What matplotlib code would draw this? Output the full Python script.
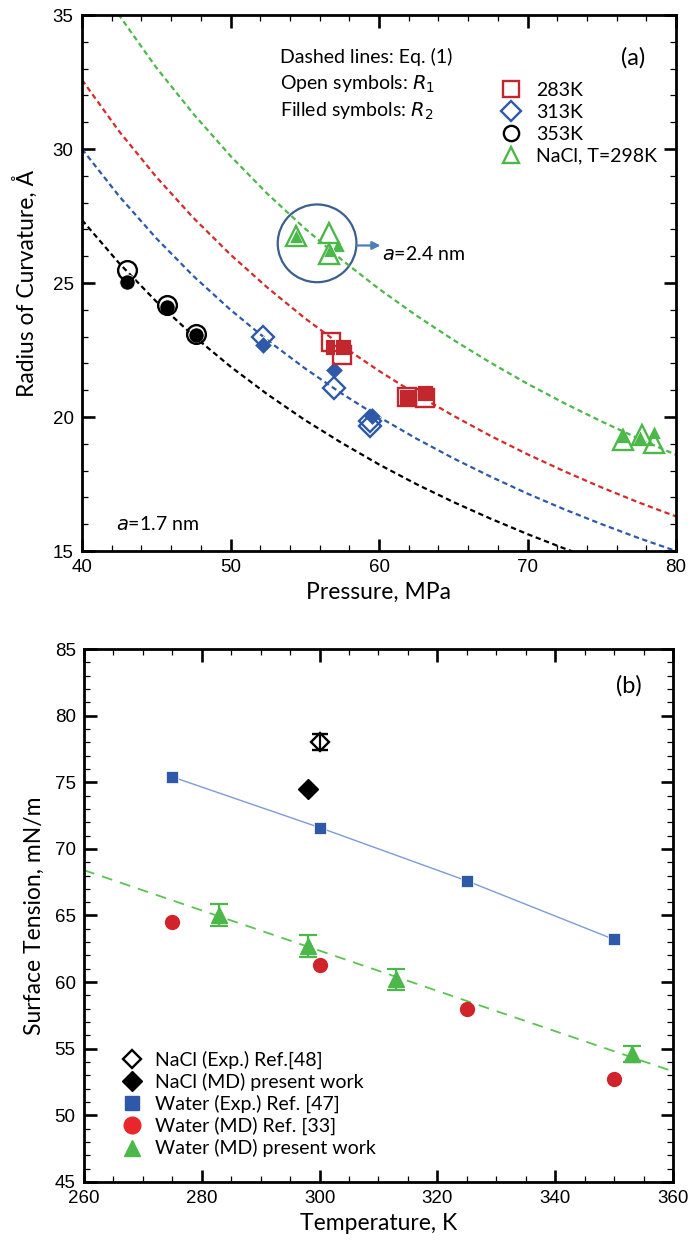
import numpy as np
import matplotlib
matplotlib.use('Agg')
import matplotlib.pyplot as plt
from matplotlib.patches import Ellipse
from matplotlib.lines import Line2D
from matplotlib.ticker import MultipleLocator

# ---- panel (a) data: radius of curvature vs pressure ----
# Eq. (1) dashed curves
p_curve = [40, 42.5, 45, 47.5, 50, 52.5, 55, 57.5, 60, 62.5, 65, 67.5, 70, 72.5, 75, 77.5, 80]
r_curve_283 = [32.58, 30.66, 28.96, 27.43, 26.06, 24.82, 23.69, 22.66, 21.72, 20.85, 20.05, 19.30, 18.61, 17.97, 17.37, 16.81, 16.29]
r_curve_313 = [30.00, 28.24, 26.67, 25.26, 24.00, 22.86, 21.82, 20.87, 20.00, 19.20, 18.46, 17.78, 17.14, 16.55, 16.00, 15.48, 15.00]
r_curve_353 = [27.35, 25.74, 24.31, 23.03, 21.88, 20.84, 19.89, 19.03, 18.23, 17.50, 16.83, 16.21, 15.63, 15.09, 14.59, 14.12, 13.68]
r_curve_nacl = [37.18, 34.99, 33.04, 31.31, 29.74, 28.32, 27.04, 25.86, 24.78, 23.79, 22.88, 22.03, 21.24, 20.51, 19.83, 19.19, 18.59]

# open symbols R1, filled symbols R2
p_283_open = [56.8, 57.5, 61.9, 63.1]
r_283_open = [22.8, 22.31, 20.76, 20.7]
p_283_fill = [56.9, 57.6, 61.9, 63.1]
r_283_fill = [22.62, 22.62, 20.76, 20.88]

p_313_open = [52.2, 57.0, 59.4, 59.4]
r_313_open = [23.0, 21.07, 19.85, 19.68]
p_313_fill = [52.2, 57.0, 59.5]
r_313_fill = [22.69, 21.75, 20.05]

p_353_open = [43.0, 45.75, 47.68]
r_353_open = [25.49, 24.17, 23.1]
p_353_fill = [43.0, 45.75, 47.68]
r_353_fill = [25.05, 24.12, 23.06]

p_nacl_open = [54.4, 56.6, 56.6, 76.4, 77.7, 78.5]
r_nacl_open = [26.77, 26.85, 26.1, 19.15, 19.33, 19.02]
p_nacl_fill = [54.4, 57.26, 56.7, 76.4, 77.6, 78.5]
r_nacl_fill = [26.77, 26.42, 26.25, 19.3, 19.27, 19.45]

# ---- panel (b) data: surface tension vs temperature ----
t_nacl_exp = [300]
s_nacl_exp = [78.0]
e_nacl_exp = [0.6]
t_nacl_md = [298]
s_nacl_md = [74.5]
t_water_exp = [275, 300, 325, 350]
s_water_exp = [75.4, 71.6, 67.6, 63.2]
t_water_ref = [275, 300, 325, 350]
s_water_ref = [64.5, 61.25, 58.0, 52.7]
t_water_md = [283, 298, 313, 353]
s_water_md = [65.05, 62.7, 60.2, 54.6]
e_water_md = [0.85, 0.8, 0.8, 0.6]
t_fit = [260, 360]
s_fit = [68.4, 53.3]

RED = '#c1272d'
BLUE = '#2e59a8'
GREEN = '#4cb84a'
TXT = ['Lato', 'DejaVu Sans']
NUM = 'Liberation Sans'

fig = plt.figure(figsize=(7, 12.51), dpi=100)
W, H = 700., 1251.
axa = fig.add_axes([82/W, 1-551/H, 594/W, 536/H])
axb = fig.add_axes([84/W, 1-1182/H, 589/W, 533/H])

def style(ax):
    for s in ax.spines.values():
        s.set_linewidth(2.0)
    ax.tick_params(which='both', direction='in', top=True, right=True)
    ax.tick_params(which='major', length=9, width=1.9, labelsize=13.5, pad=6)
    ax.tick_params(which='minor', length=4.5, width=0.9)
    for lab in ax.get_xticklabels() + ax.get_yticklabels():
        lab.set_family(NUM)

# ---------- (a) ----------
dash = (2.4, 1.6)
axa.plot(p_curve, r_curve_nacl, color=GREEN, lw=1.6, dashes=dash)
axa.plot(p_curve, r_curve_283, color='#d42a2a', lw=1.6, dashes=dash)
axa.plot(p_curve, r_curve_313, color=BLUE, lw=1.6, dashes=dash)
axa.plot(p_curve, r_curve_353, color='black', lw=1.6, dashes=dash)

axa.plot(p_353_fill, r_353_fill, 'o', color='black', ms=11, mec='white', mew=0.6)
axa.plot(p_353_open, r_353_open, 'o', mfc='none', mec='black', ms=13.5, mew=1.7)
axa.plot(p_313_fill, r_313_fill, 'D', color=BLUE, ms=9.5, mec='white', mew=0.6)
axa.plot(p_313_open, r_313_open, 'D', mfc='none', mec=BLUE, ms=11.5, mew=1.7)
axa.plot(p_283_fill, r_283_fill, 's', color=RED, ms=12, mec='white', mew=0.6)
axa.plot(p_283_open, r_283_open, 's', mfc='none', mec=RED, ms=12.5, mew=1.7)
axa.plot(p_nacl_fill, r_nacl_fill, '^', color=GREEN, ms=10, mec='white', mew=0.6)
axa.plot(p_nacl_open, r_nacl_open, '^', mfc='none', mec=GREEN, ms=14, mew=1.7)

axa.add_patch(Ellipse((55.83, 26.48), 5.3, 2.9, fill=False, ec='#3c5f8c', lw=1.6))
axa.annotate('', xy=(60.1, 26.4), xytext=(58.5, 26.4),
             arrowprops=dict(arrowstyle='-|>', color='#4a7ebb', lw=1.6, mutation_scale=12,
                             shrinkA=0, shrinkB=0))
axa.text(60.2, 26.1, '$a$=2.4 nm', fontsize=14, family=TXT, va='center')
axa.text(42.3, 16.0, '$a$=1.7 nm', fontsize=14, family=TXT, va='center')
axa.text(53.3, 33.43, 'Dashed lines: Eq. (1)', fontsize=14, family=TXT, va='center')
axa.text(53.3, 32.42, 'Open symbols: $R_1$', fontsize=14, family=TXT, va='center')
axa.text(53.3, 31.40, 'Filled symbols: $R_2$', fontsize=14, family=TXT, va='center')
axa.text(77.1, 33.4, '(a)', fontsize=17, family=TXT, va='center', ha='center')

ha = [Line2D([], [], ls='none', marker='s', mfc='none', mec=RED, ms=11, mew=1.7),
      Line2D([], [], ls='none', marker='D', mfc='none', mec=BLUE, ms=10, mew=1.7),
      Line2D([], [], ls='none', marker='o', mfc='none', mec='black', ms=11, mew=1.7),
      Line2D([], [], ls='none', marker='^', mfc='none', mec=GREEN, ms=12, mew=1.7)]
lega = axa.legend(ha, ['283K', '313K', '353K', 'NaCl, T=298K'], loc='upper left',
                  bbox_to_anchor=(0.689, 0.894), frameon=False, borderpad=0, handlelength=1.0,
                  handletextpad=0.8, labelspacing=0.26, prop={'family': TXT, 'size': 14})

axa.set_xlim(40, 80)
axa.set_ylim(15, 35)
axa.xaxis.set_major_locator(MultipleLocator(10))
axa.xaxis.set_minor_locator(MultipleLocator(2))
axa.yaxis.set_major_locator(MultipleLocator(5))
axa.yaxis.set_minor_locator(MultipleLocator(1))
axa.set_xlabel('Pressure, MPa', fontsize=16.5, family=TXT, labelpad=4)
axa.set_ylabel('Radius of Curvature, Å', fontsize=16.5, family=TXT, labelpad=11)
style(axa)

# ---------- (b) ----------
axb.plot(t_fit, s_fit, color='#5cc352', lw=1.3, dashes=(6, 4.5))
axb.plot(t_water_exp, s_water_exp, color='#7d9bd8', lw=1.0)
axb.plot(t_water_exp, s_water_exp, 's', color=BLUE, ms=8, mec='white', mew=0.5)
axb.plot(t_water_ref, s_water_ref, 'o', color='#d1232a', ms=11, mec='none')
axb.errorbar(t_water_md, s_water_md, yerr=e_water_md, fmt='^', color=GREEN, ms=11,
             capsize=6.5, elinewidth=1.6, capthick=1.6)
axb.errorbar(t_nacl_exp, s_nacl_exp, yerr=e_nacl_exp, fmt='D', mfc='none', mec='black',
             ecolor='black', ms=9, mew=1.7, capsize=6, elinewidth=1.6, capthick=1.6)
axb.plot(t_nacl_md, s_nacl_md, 'D', color='black', ms=10)
axb.text(352.5, 82.2, '(b)', fontsize=17, family=TXT, va='center', ha='center')

hb = [Line2D([], [], ls='none', marker='D', mfc='none', mec='black', ms=9.5, mew=1.7),
      Line2D([], [], ls='none', marker='D', color='black', ms=10),
      Line2D([], [], ls='none', marker='s', color=BLUE, ms=10),
      Line2D([], [], ls='none', marker='o', color='#e8262c', ms=12),
      Line2D([], [], ls='none', marker='^', color=GREEN, ms=12)]
legb = axb.legend(hb, ['NaCl (Exp.) Ref.[48]', 'NaCl (MD) present work', 'Water (Exp.) Ref. [47]',
                       'Water (MD) Ref. [33]', 'Water (MD) present work'],
                  loc='lower left', bbox_to_anchor=(0.049, 0.028), frameon=False, borderpad=0,
                  handlelength=1.0, handletextpad=0.65, labelspacing=0.2,
                  prop={'family': TXT, 'size': 14})

axb.set_xlim(260, 360)
axb.set_ylim(45, 85)
axb.xaxis.set_major_locator(MultipleLocator(20))
axb.xaxis.set_minor_locator(MultipleLocator(5))
axb.yaxis.set_major_locator(MultipleLocator(5))
axb.yaxis.set_minor_locator(MultipleLocator(1))
axb.set_xlabel('Temperature, K', fontsize=16.5, family=TXT, labelpad=4)
axb.set_ylabel('Surface Tension, mN/m', fontsize=16.5, family=TXT, labelpad=7)
style(axb)

fig.savefig('out.png', dpi=100)
